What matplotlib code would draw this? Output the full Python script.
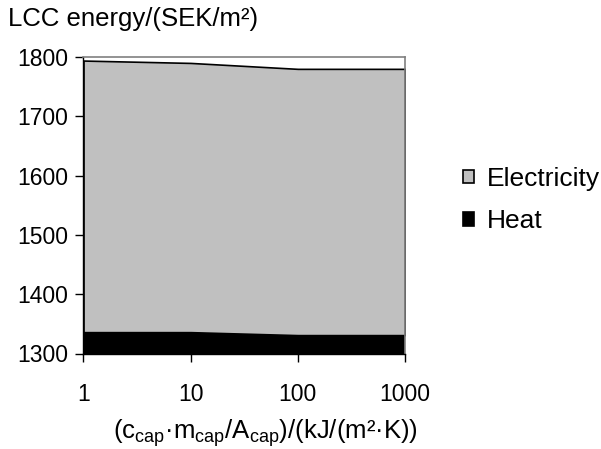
import matplotlib.pyplot as plt
import numpy as np

plt.rcParams['font.family'] = ['Liberation Sans', 'DejaVu Sans']
plt.rcParams['mathtext.fontset'] = 'custom'
plt.rcParams['mathtext.rm'] = 'Liberation Sans'
plt.rcParams['mathtext.it'] = 'Liberation Sans'

categories = ["1", "10", "100", "1000"]
heat = np.array([1336, 1336, 1331, 1331])
electricity = np.array([458, 454, 449, 449])

x = np.arange(len(categories))

fig = plt.figure(figsize=(6.01, 4.49), dpi=100)
ax = fig.add_axes([83.5 / 601, 1 - 353.5 / 449, 321.5 / 601, 296.5 / 449])

ax.stackplot(x, heat, electricity, colors=["#000000", "#c0c0c0"],
             edgecolor="black", linewidth=1.2, labels=["Heat", "Electricity"])

ax.set_xlim(0, 3)
ax.set_ylim(1300, 1800)
ax.set_yticks([1300, 1400, 1500, 1600, 1700, 1800])
ax.set_xticks(x)
ax.set_xticklabels(categories)
ax.tick_params(labelsize=16.5, length=6, width=1, direction="out", pad=5)
ax.tick_params(axis="x", pad=15)

for s in ["top", "right"]:
    ax.spines[s].set_color("#808080")
    ax.spines[s].set_linewidth(1.2)
ax.spines["left"].set_linewidth(1)
ax.spines["bottom"].set_linewidth(1)

fig.text(8 / 601, 1 - 19 / 449, "LCC energy/(SEK/m²)", fontsize=18.5, va="center", ha="left")
fig.text(265 / 601, 1 - 439 / 449,
         r"(c$\mathregular{_{cap}}$·m$\mathregular{_{cap}}$/A$\mathregular{_{cap}}$)/(kJ/(m²·K))",
         fontsize=18.5, ha="center", va="baseline")

handles, labels = ax.get_legend_handles_labels()
leg = fig.legend(handles[::-1], labels[::-1], loc="center left",
                 bbox_to_anchor=(463 / 601, 1 - 200 / 449), frameon=False,
                 fontsize=19, handlelength=0.42, handleheight=0.42,
                 handletextpad=0.5, labelspacing=0.7, borderpad=0, borderaxespad=0)

fig.savefig("out.png", dpi=100)
